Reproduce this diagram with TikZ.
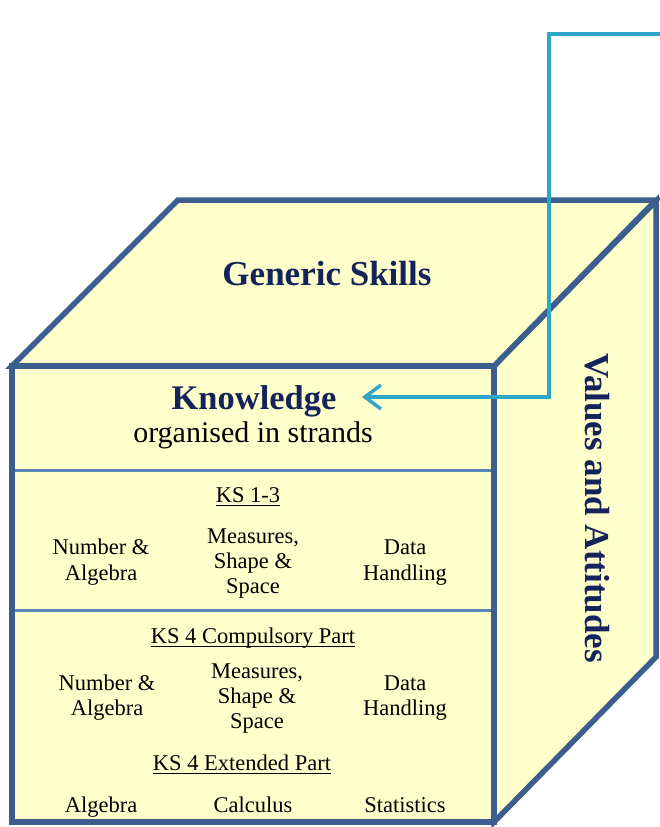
\documentclass[tikz,border=0pt]{standalone}
\usepackage{fontspec}
\setmainfont{Liberation Serif}
\usetikzlibrary{arrows.meta}
\definecolor{cubefill}{HTML}{FFFFCC}
\definecolor{framecol}{HTML}{3B5E8E}
\definecolor{dividercol}{HTML}{5A84B8}
\definecolor{navy}{HTML}{14245A}
\definecolor{linkcol}{HTML}{2EA6C9}
\newcommand{\myul}[1]{\setbox0=\hbox{#1}\leavevmode\rlap{\vrule width\wd0 height -2.6pt depth 4.1pt}\box0}
\begin{document}
\begin{tikzpicture}[x=1pt,y=-1pt,
  face/.style={fill=cubefill,draw=framecol,line width=5.5pt,line join=miter},
  divline/.style={draw=dividercol,line width=3pt},
  title/.style={text=navy,inner sep=0pt,anchor=base},
  body/.style={font=\fontsize{22.5}{26}\selectfont,inner sep=0pt,anchor=base},
  link/.style={draw=linkcol,line width=3.5pt,line join=miter}
]
\useasboundingbox (0,0) rectangle (660,827);
% cube faces
\draw[face] (494,366) -- (656,201) -- (656,657) -- (494,822) -- cycle;
\draw[face] (12,366) -- (178,200) -- (656,200) -- (494,366) -- cycle;
\draw[face] (12,366) rectangle (494,822);
\draw[divline] (15,470) -- (491,470);
\draw[divline] (15,610) -- (491,610);

% titles
\node[title,font=\fontsize{35}{40}\selectfont\bfseries] (gs) at (327,285) {Generic Skills};
\node[title,font=\fontsize{34.5}{40}\selectfont\bfseries] (know) at (254,409) {Knowledge};
\node[inner sep=0pt,anchor=base,font=\fontsize{30}{34}\selectfont] (org) at (253,442) {organised in strands};
\node[text=navy,inner sep=0pt,rotate=-90,font=\fontsize{35}{40}\selectfont\bfseries] (va) at (597,508) {Values and Attitudes};

% KS 1-3
\node[body] (ks13) at (248,502) {\myul{KS 1-3}};
\node[body] (na1a) at (101,554) {Number \&};
\node[body] (na1b) at (101,580) {Algebra};
\node[body] (ms1a) at (253,543) {Measures,};
\node[body] (ms1b) at (253,568) {Shape \&};
\node[body] (ms1c) at (253,593) {Space};
\node[body] (dh1a) at (405,554) {Data};
\node[body] (dh1b) at (405,580) {Handling};

% KS 4 compulsory
\node[body] (ks4c) at (253,643) {\myul{KS 4 Compulsory Part}};
\node[body] (na4a) at (107,690) {Number \&};
\node[body] (na4b) at (107,715) {Algebra};
\node[body] (ms4a) at (257,678) {Measures,};
\node[body] (ms4b) at (257,703) {Shape \&};
\node[body] (ms4c) at (257,728) {Space};
\node[body] (dh4a) at (405,690) {Data};
\node[body] (dh4b) at (405,715) {Handling};

% KS 4 extended
\node[body] (ks4e) at (242,770) {\myul{KS 4 Extended Part}};
\node[body] (alg) at (101,812) {Algebra};
\node[body] (calc) at (253,812) {Calculus};
\node[body] (stat) at (405,812) {Statistics};

% connector
\coordinate (src) at (664,34);
\coordinate (bend) at (549,34);
\coordinate (tip) at (362,397);
\draw[link,-{Straight Barb[length=16pt,width=24pt]}] (src) -- (bend) |- (tip);
\end{tikzpicture}
\end{document}
